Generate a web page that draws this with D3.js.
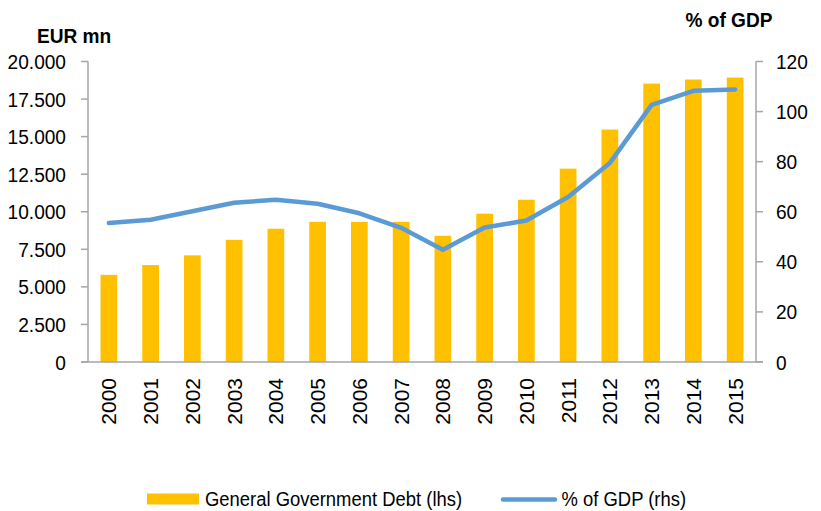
<!DOCTYPE html>
<html>
<head>
<meta charset="utf-8">
<script src="https://cdn.jsdelivr.net/npm/d3@7"></script>
<style>
  html, body { margin: 0; padding: 0; background: #fff; }
  svg { display: block; font-family: "Liberation Sans", Arial, sans-serif; }
</style>
</head>
<body>
<svg id="chart" width="821" height="511"></svg>
<script>
// Years on the category axis
const years = ["2000","2001","2002","2003","2004","2005","2006","2007","2008","2009","2010","2011","2012","2013","2014","2015"];
// General government debt, EUR mn (left axis)
const debt = [5800, 6450, 7100, 8130, 8870, 9330, 9330, 9330, 8400, 9870, 10800, 12870, 15470, 18530, 18800, 18930];
// Debt as % of GDP (right axis)
const debtPctGdp = [55.5, 56.8, 60.2, 63.6, 64.8, 63.2, 59.4, 53.6, 44.8, 53.7, 56.5, 65.9, 79.5, 102.7, 108.3, 108.8];
// Axis ticks
const leftTicks = [0, 2500, 5000, 7500, 10000, 12500, 15000, 17500, 20000];
const rightTicks = [0, 20, 40, 60, 80, 100, 120];

const svg = d3.select("#chart");
const plotLeft = 88, plotRight = 756, plotTop = 61.5, plotBottom = 362;
const axisColor = "#A6A6A6";
const textColor = "#000";
const squeeze = 0.91; // horizontal squeeze of the text glyphs

const x = d3.scaleBand().domain(years).range([plotLeft, plotRight]).paddingInner(0.6).paddingOuter(0.3);
const yL = d3.scaleLinear().domain([0, 20000]).range([plotBottom, plotTop]);
const yR = d3.scaleLinear().domain([0, 120]).range([plotBottom, plotTop]);

const fmtThousands = d3.formatLocale({ decimal: ",", thousands: ".", grouping: [3], currency: ["", "€"] }).format(",");

// Text helper with a slight horizontal compression
function squeezedText(parent, tx, ty, str, opts) {
  const g = parent.append("g").attr("transform", `translate(${tx},${ty}) scale(${opts.sx || squeeze},1)`);
  return g.append("text")
    .attr("x", 0).attr("y", 0)
    .attr("text-anchor", opts.anchor || "start")
    .attr("font-size", opts.size || 21)
    .attr("font-weight", opts.weight || "normal")
    .attr("fill", textColor)
    .text(str);
}

// Bars
svg.append("g").selectAll("rect").data(years).join("rect")
  .attr("x", d => x(d))
  .attr("width", x.bandwidth())
  .attr("y", (d, i) => yL(debt[i]))
  .attr("height", (d, i) => plotBottom - yL(debt[i]))
  .attr("fill", "#FFC000");

// Axis lines and ticks
const axes = svg.append("g").attr("stroke", axisColor).attr("stroke-width", 1.5).attr("fill", "none");
axes.append("line").attr("x1", plotLeft).attr("x2", plotLeft).attr("y1", plotTop).attr("y2", plotBottom);
axes.append("line").attr("x1", plotRight).attr("x2", plotRight).attr("y1", plotTop).attr("y2", plotBottom);
axes.append("line").attr("x1", plotLeft - 7).attr("x2", plotRight + 7).attr("y1", plotBottom).attr("y2", plotBottom);
leftTicks.forEach(t => axes.append("line").attr("x1", plotLeft - 7).attr("x2", plotLeft).attr("y1", yL(t)).attr("y2", yL(t)));
rightTicks.forEach(t => axes.append("line").attr("x1", plotRight).attr("x2", plotRight + 7).attr("y1", yR(t)).attr("y2", yR(t)));

// Tick labels
const labels = svg.append("g");
leftTicks.forEach(t => squeezedText(labels, 66, yL(t) + 7.5, fmtThousands(t), { anchor: "end" }));
rightTicks.forEach(t => squeezedText(labels, 776, yR(t) + 7.5, String(t), { anchor: "start" }));

// Year labels, rotated
svg.append("g").selectAll("text").data(years).join("text")
  .attr("transform", d => `translate(${x(d) + x.bandwidth() / 2 + 7.5},378) rotate(-90)`)
  .attr("text-anchor", "end")
  .attr("font-size", 21)
  .attr("fill", textColor)
  .text(d => d);

// % of GDP line
const line = d3.line()
  .x((d, i) => x(years[i]) + x.bandwidth() / 2)
  .y(d => yR(d));
svg.append("path").datum(debtPctGdp)
  .attr("d", line)
  .attr("fill", "none")
  .attr("stroke", "#5B9BD5")
  .attr("stroke-width", 4.5)
  .attr("stroke-linejoin", "round")
  .attr("stroke-linecap", "round");

// Axis titles
squeezedText(svg, 37, 42.5, "EUR mn", { weight: "bold", size: 21 });
squeezedText(svg, 729, 26.5, "% of GDP", { weight: "bold", size: 21, anchor: "middle" });

// Legend
const legend = svg.append("g");
legend.append("rect").attr("x", 147).attr("y", 493.5).attr("width", 52).attr("height", 11).attr("fill", "#FFC000");
squeezedText(legend, 205, 506, "General Government Debt (lhs)", { size: 21, sx: 0.878 });
legend.append("line").attr("x1", 503).attr("x2", 555).attr("y1", 499.5).attr("y2", 499.5)
  .attr("stroke", "#5B9BD5").attr("stroke-width", 4.5).attr("stroke-linecap", "round");
squeezedText(legend, 561.5, 506, "% of GDP (rhs)", { size: 21, sx: 0.878 });
</script>
</body>
</html>
